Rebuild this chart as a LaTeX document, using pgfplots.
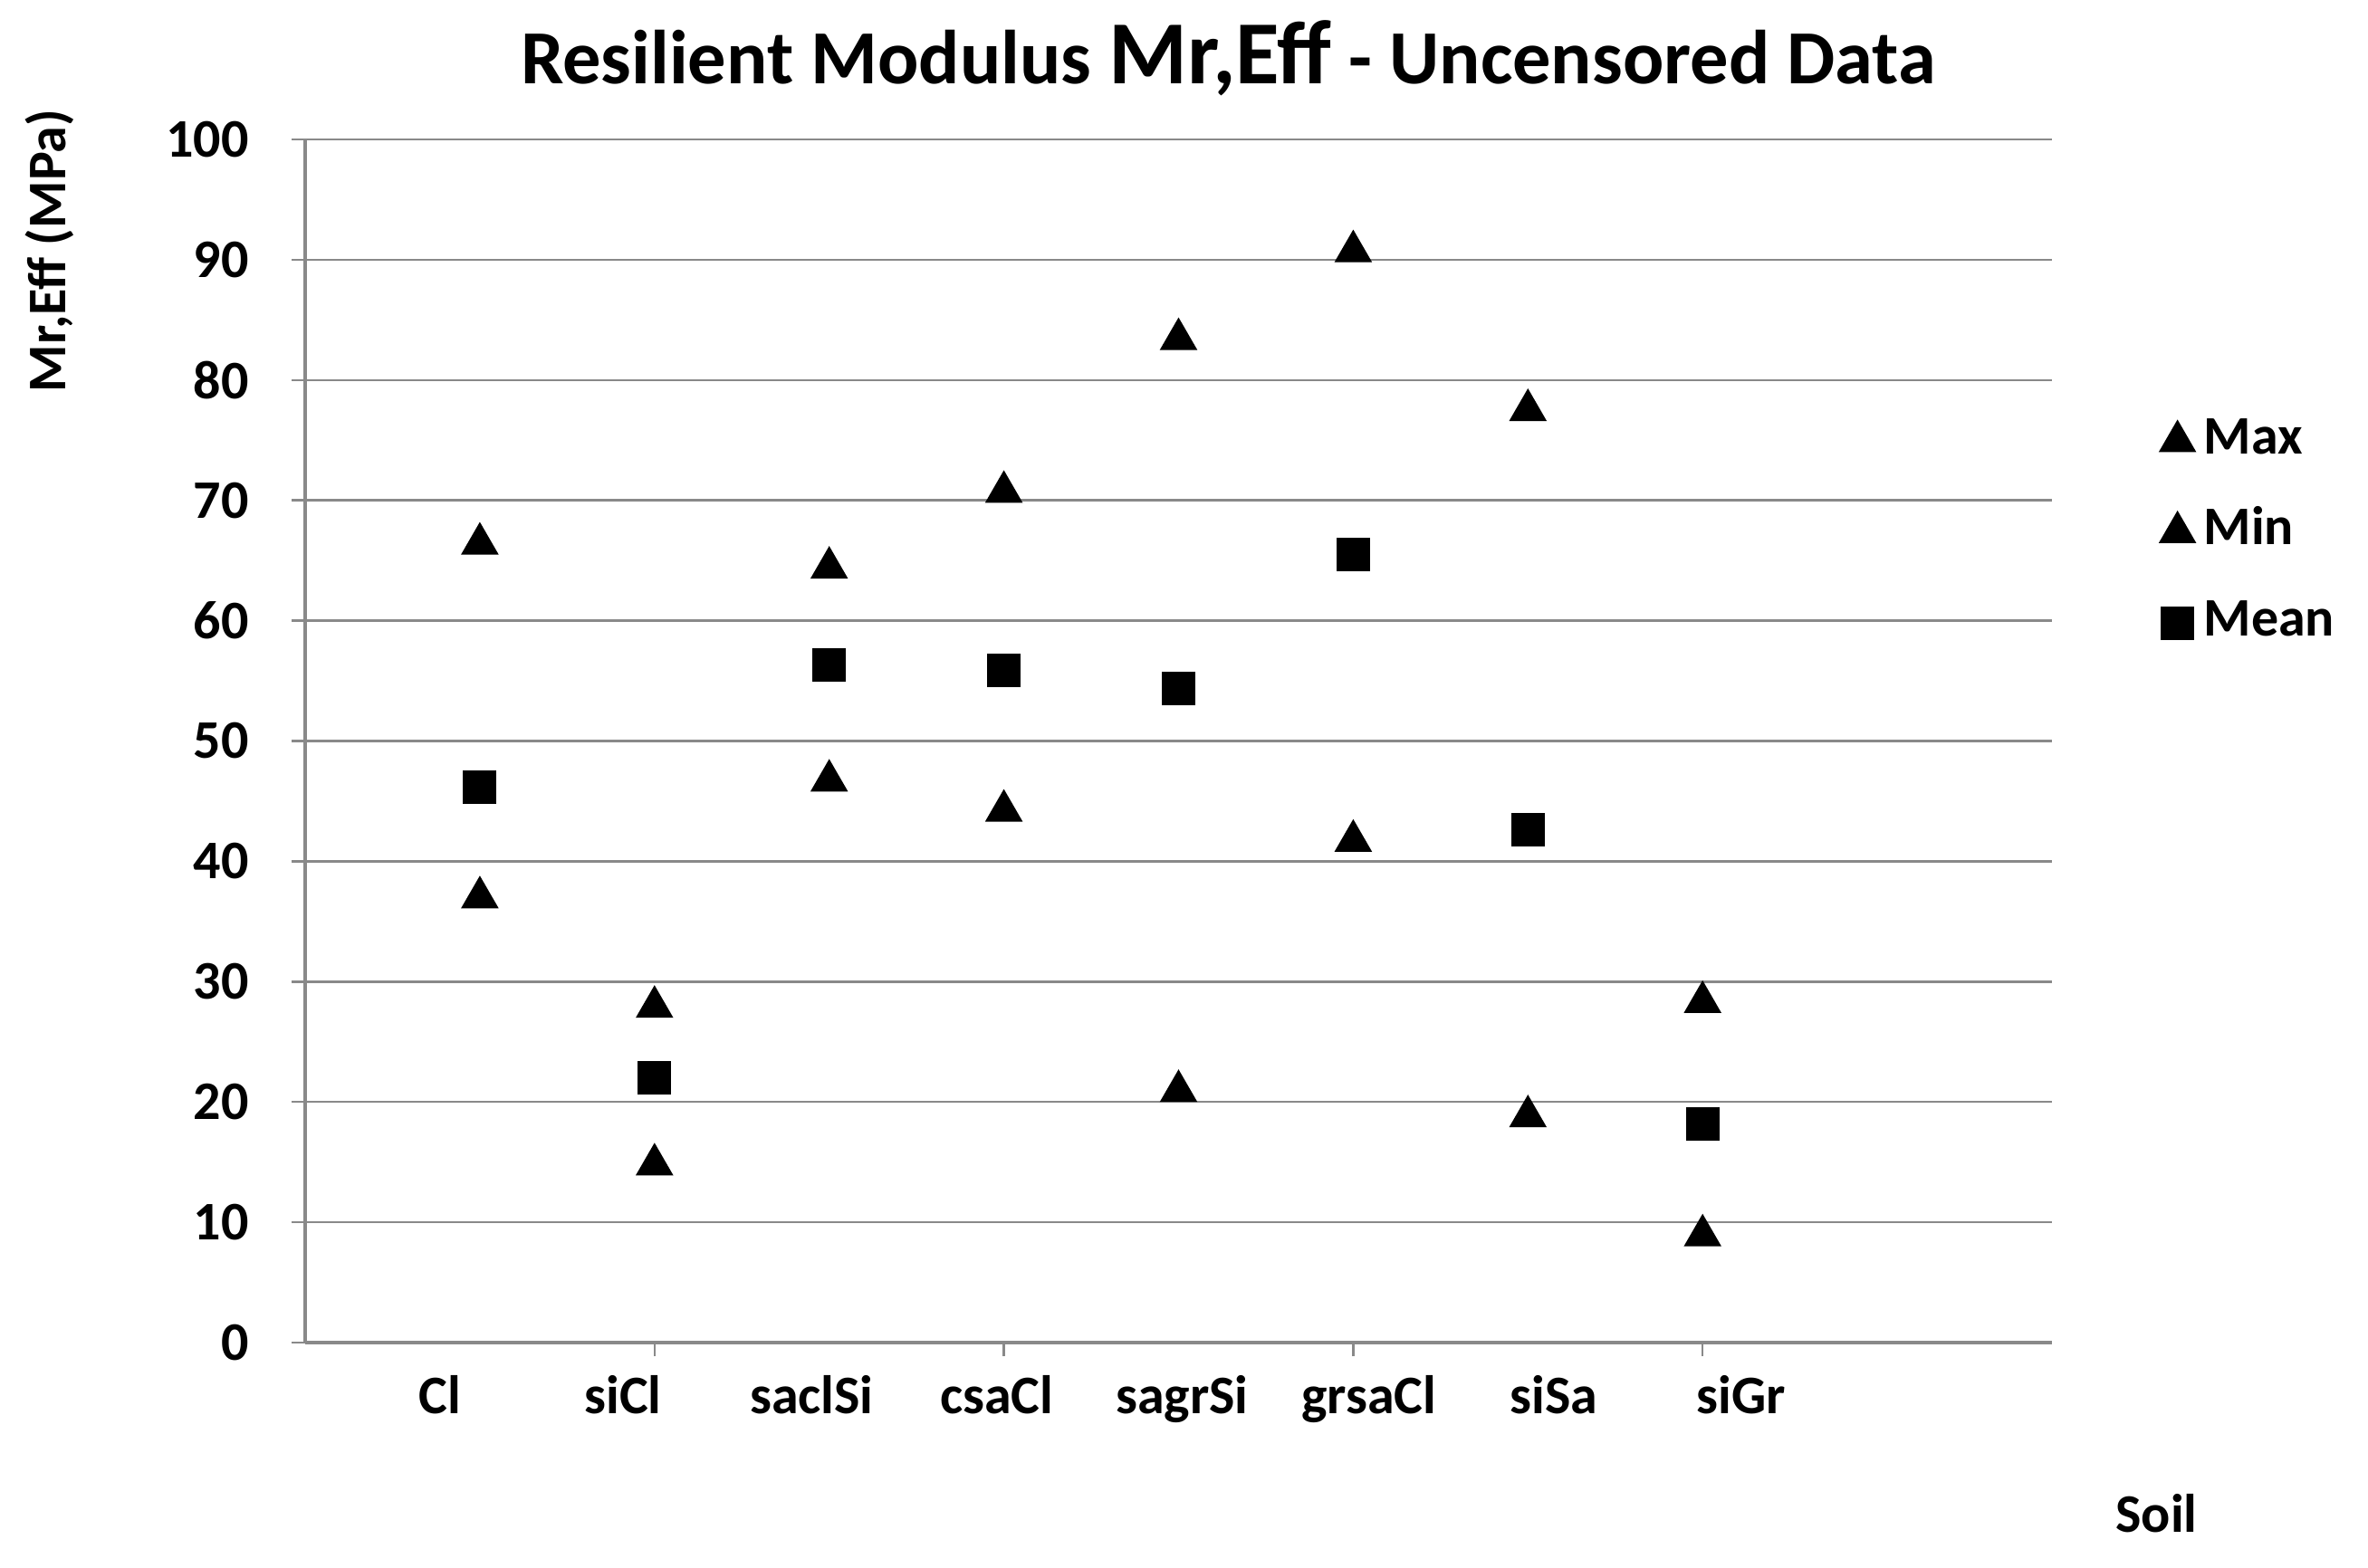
\documentclass[border=0pt]{standalone}
\usepackage{pgfplots}
\pgfplotsset{compat=1.18}
\usepackage{fontspec}
\setmainfont{Carlito}
\definecolor{gridgray}{RGB}{137,137,137}
\newcommand{\lbl}{\bfseries\fontsize{12}{14}\selectfont}
\begin{document}
\begin{tikzpicture}
\path[use as bounding box] (0,0) rectangle (523pt,346.2pt);
\begin{axis}[
    at={(67.4pt,49.6pt)}, anchor=south west,
    scale only axis, width=385.8pt, height=265.8pt,
    xmin=0, xmax=10, ymin=0, ymax=100,
    axis x line*=bottom, axis y line*=left,
    axis line style={gridgray, line width=0.8pt, -},
    ytick={0,10,...,100},
    xtick={2,4,6,8}, xticklabels={,,,},
    tick style={gridgray, line width=0.5pt},
    tick align=outside, major tick length=3pt,
    ymajorgrids, major grid style={gridgray, line width=0.5pt},
    /pgf/number format/assume math mode=true,
    yticklabel style={font=\lbl, inner sep=0pt},
    yticklabel shift=9.3pt,
    extra x ticks={0.77,1.82,2.90,3.96,5.02,6.09,7.15,8.22},
    extra x tick labels={Cl,siCl,saclSi,csaCl,sagrSi,grsaCl,siSa,siGr},
    extra x tick style={major tick length=0pt, grid=none,
        xticklabel style={font=\lbl, inner sep=0pt, anchor=north}},
    xticklabel shift=7pt,
    legend style={draw=none, fill=none, inner sep=0pt, outer sep=0pt,
        at={(axis description cs:1.062,0.7687)}, anchor=north west,
        font=\lbl, row sep=10.1pt, column sep=2pt,
        nodes={inner sep=0pt, text height=8pt, text depth=2pt}},
    legend cell align=left,
    legend image code/.code={\draw[#1] plot coordinates {(0pt,-0.2pt)};},
    clip=false,
]
% Max
\addplot[only marks, mark=triangle*, mark size=4.4pt, mark options={fill=black, draw=black}] coordinates {
  (1,66.4) (2,27.9) (3,64.4) (4,70.7) (5,83.4) (6,90.7) (7,77.5) (8,28.3)};
% Min
\addplot[only marks, mark=triangle*, mark size=4.4pt, mark options={fill=black, draw=black}] coordinates {
  (1,37.0) (2,14.8) (3,46.7) (4,44.2) (5,20.9) (6,41.7) (7,18.8) (8,8.9)};
% Mean
\addplot[only marks, mark=square*, mark size=3.5pt, mark options={fill=black, draw=black}] coordinates {
  (1,46.2) (2,22.0) (3,56.3) (4,55.9) (5,54.4) (6,65.5) (7,42.6) (8,18.2)};
\legend{Max,Min,Mean}
\end{axis}
\node[font=\bfseries\fontsize{16.9}{20}\selectfont] at (271.3pt,333.4pt)
  {Resilient Modulus {\fontsize{19.9}{24}\selectfont Mr,Eff} - Uncensored Data};
\node[rotate=90, font=\lbl] at (11pt,290.8pt) {Mr,Eff (MPa)};
\node[font=\lbl] at (476.3pt,11.8pt) {Soil};
\end{tikzpicture}
\end{document}
